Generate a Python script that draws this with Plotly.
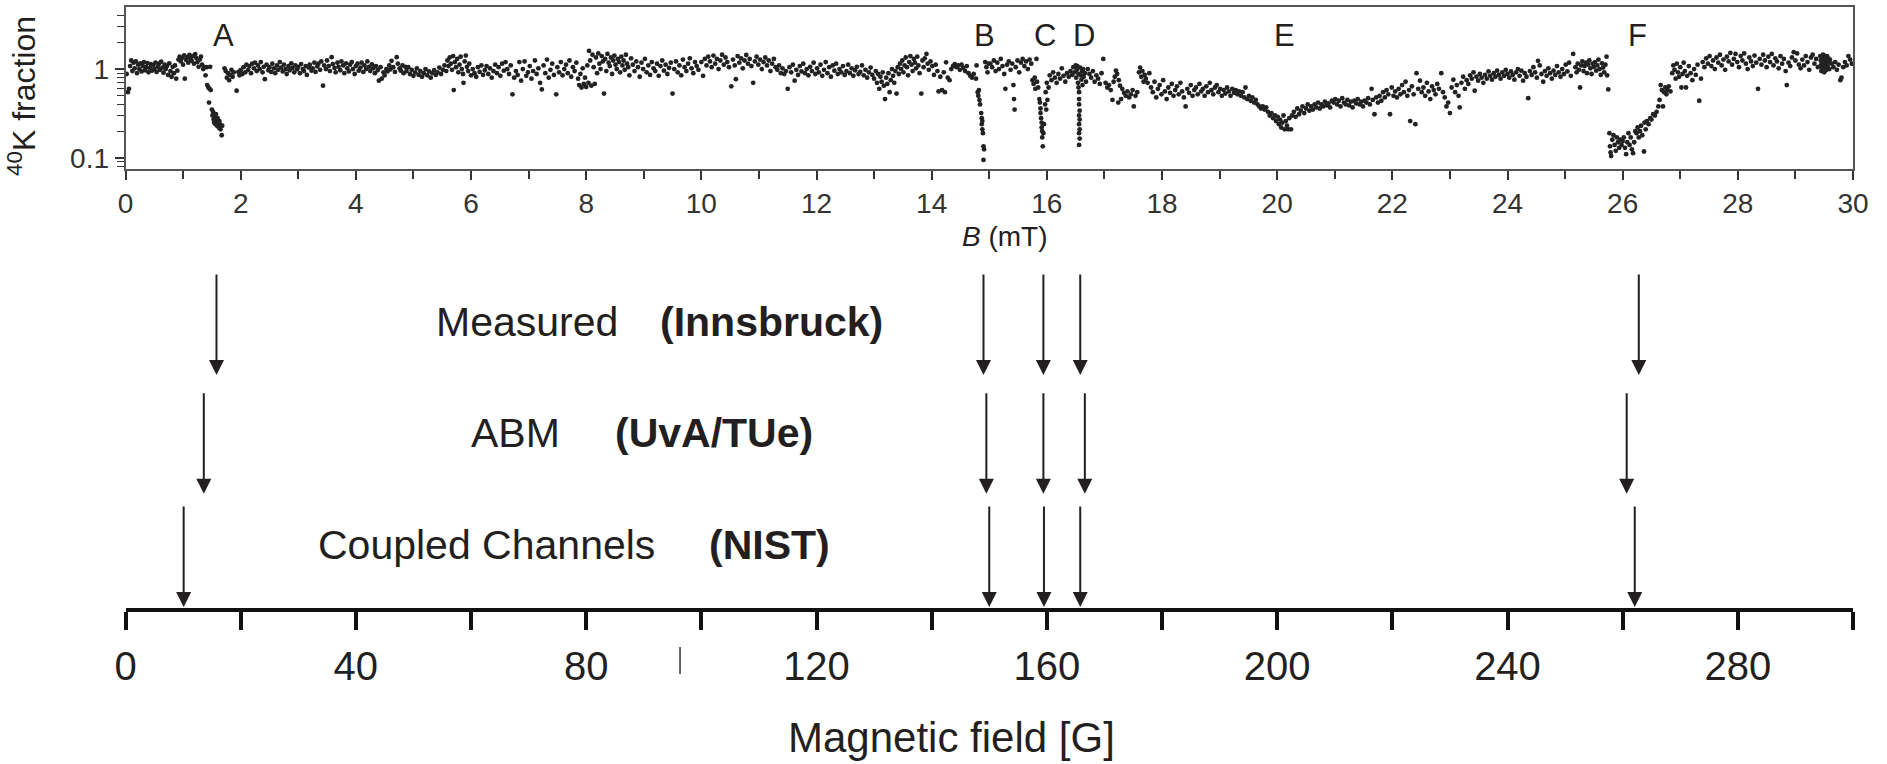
import plotly.graph_objects as go

# ---------------- data: 40K fraction vs B (mT) ----------------
seg_0_2p5 = [(0.02,0.88),(0.04,0.55),(0.06,0.60),(0.08,1.08),(0.10,1.25),(0.12,0.95),(0.14,1.18),(0.16,1.02),(0.18,1.22),(0.20,0.90),(0.22,1.12),(0.24,1.00),(0.26,1.16),(0.28,0.94),(0.30,1.08),(0.32,1.20),(0.34,0.97),(0.36,1.05),(0.38,1.17),(0.40,0.92),(0.42,1.03),(0.44,1.14),(0.46,0.96),(0.48,1.10),(0.50,1.00),(0.52,1.18),(0.54,0.93),(0.56,1.06),(0.58,1.15),(0.60,0.98),(0.62,1.21),(0.64,1.04),(0.66,0.91),(0.68,1.12),(0.70,1.00),(0.72,1.08),(0.74,0.86),(0.76,1.16),(0.78,0.95),(0.80,0.82),(0.82,1.06),(0.84,0.90),(0.86,1.10),(0.88,0.78),(0.90,0.96),(0.92,1.28),(0.94,1.38),(0.96,1.22),(0.98,1.33),(1.00,1.12),(1.02,1.43),(1.03,0.78),(1.05,1.27),(1.07,1.36),(1.09,1.18),(1.11,1.44),(1.13,1.30),(1.15,1.24),(1.17,1.40),(1.19,1.15),(1.21,1.47),(1.23,1.33),(1.25,1.20),(1.27,1.06),(1.29,1.28),(1.31,1.38),(1.33,1.12),(1.35,1.00),(1.37,1.05),
             (1.39,0.85),(1.41,1.05),(1.42,0.66),(1.44,0.62),(1.45,0.42),(1.46,0.60),(1.47,1.06),(1.48,0.58),(1.50,0.35),(1.51,0.30),(1.52,0.33),(1.53,0.27),(1.54,0.25),(1.55,0.29),(1.56,0.24),(1.57,0.31),(1.58,0.26),(1.59,0.23),(1.60,0.28),(1.61,0.25),(1.62,0.22),(1.63,0.26),(1.64,0.24),(1.65,0.21),(1.67,0.18),(1.68,0.23),
             (1.72,1.02),(1.74,0.95),(1.76,0.80),(1.78,0.90),(1.80,0.75),(1.82,0.86),(1.84,0.98),(1.86,0.82),(1.88,0.92),(1.93,0.57),(1.96,0.93),(1.98,0.85),(2.00,0.97),(2.03,0.88),(2.05,1.05),(2.08,0.92),(2.10,1.12),(2.13,0.98),(2.15,1.08),(2.18,0.90),(2.20,1.15),(2.23,1.02),(2.25,1.18),(2.28,0.95),(2.30,1.10),(2.33,1.00),(2.35,1.20),(2.38,0.92),(2.40,1.06),(2.42,0.77),(2.45,1.12),(2.48,0.97)]

seg_2p5_4p9 = [(2.50,1.05),(2.53,0.93),(2.55,1.15),(2.58,1.02),(2.60,0.90),(2.63,1.10),(2.65,0.98),(2.68,1.20),(2.70,1.04),(2.73,0.94),(2.75,1.12),(2.78,1.00),(2.80,0.88),(2.83,1.08),(2.85,0.97),(2.88,1.16),(2.90,1.03),(2.93,0.92),(2.95,1.10),(2.98,0.99),(3.00,1.06),(3.03,0.90),(3.05,1.14),(3.08,1.00),(3.10,0.95),(3.13,1.08),(3.15,0.86),(3.18,1.04),(3.20,1.12),(3.23,0.96),(3.25,1.02),(3.28,1.18),(3.30,0.93),(3.33,1.07),(3.35,1.15),(3.38,0.98),(3.40,1.22),(3.43,0.65),(3.45,1.10),(3.48,1.00),(3.50,1.25),(3.53,1.08),(3.55,0.95),(3.58,1.36),(3.60,1.14),(3.63,1.03),(3.65,0.92),(3.68,1.18),(3.70,1.06),(3.73,0.97),(3.75,1.22),(3.78,1.10),(3.80,0.90),(3.83,1.16),(3.85,1.02),(3.88,0.94),(3.90,1.12),(3.93,1.20),(3.95,1.00),(3.98,0.88),(4.00,1.08),(4.03,1.15),(4.05,0.96),(4.08,1.04),(4.10,1.18),(4.13,0.93),(4.15,1.10),(4.18,1.00),(4.20,1.22),(4.23,1.06),(4.25,0.95),(4.28,1.13),(4.30,1.02),(4.33,0.90),(4.35,1.08),(4.38,0.97),(4.40,0.74),(4.43,1.05),(4.45,0.78),(4.48,0.92),(4.50,0.85),(4.53,1.00),(4.55,0.94),(4.58,1.10),(4.60,0.99),(4.62,1.24),(4.65,1.05),(4.68,0.93),(4.71,1.36),(4.73,1.15),(4.76,1.02),(4.78,0.96),(4.81,1.10),(4.83,0.90),(4.86,1.06)]

seg_4p9_10 = [(4.88,0.95),(4.91,1.05),(4.94,0.88),(4.97,0.98),(5.00,0.84),(5.03,0.92),(5.06,1.02),(5.09,0.86),(5.12,0.95),(5.15,0.82),(5.18,0.90),(5.21,1.00),(5.24,0.85),(5.27,0.94),(5.30,0.80),(5.33,0.90),(5.36,0.97),(5.39,0.86),(5.42,0.92),(5.45,1.04),(5.48,0.88),(5.51,0.98),(5.54,1.10),(5.57,0.95),(5.59,1.25),(5.61,1.08),(5.63,1.35),(5.65,1.15),(5.67,0.98),(5.69,1.40),(5.70,0.58),(5.72,1.20),(5.74,1.05),(5.76,1.30),(5.78,0.92),(5.80,1.12),(5.82,1.38),(5.84,1.00),(5.86,0.88),(5.87,0.70),(5.89,1.22),(5.91,1.42),(5.93,1.06),(5.95,0.95),(5.97,1.15),(6.00,0.85),(6.03,1.00),(6.06,0.90),(6.09,0.82),(6.12,1.05),(6.15,0.93),(6.18,1.10),(6.21,0.86),(6.24,0.97),(6.27,1.08),(6.30,0.88),(6.33,1.02),(6.36,0.80),(6.39,0.95),(6.42,1.12),(6.45,0.90),(6.48,1.05),(6.51,0.84),(6.54,1.15),(6.57,0.96),(6.60,1.20),(6.63,1.00),(6.66,0.88),(6.69,1.10),(6.72,0.52),(6.75,0.80),(6.78,0.95),(6.81,0.86),(6.84,1.20),(6.87,0.74),(6.90,1.00),(6.93,1.22),(6.96,0.84),(6.99,0.92),(7.02,1.08),(7.05,0.78),(7.08,0.95),(7.11,1.25),(7.14,0.88),(7.17,1.02),(7.20,0.70),(7.23,0.59),(7.26,1.10),(7.29,0.90),(7.32,1.28),(7.35,0.80),(7.38,0.98),(7.41,1.15),(7.44,0.86),(7.48,0.52),(7.50,1.05),(7.53,0.92),(7.56,1.20),(7.59,0.85),(7.62,1.00),(7.65,1.12),(7.68,0.90),(7.71,1.25),(7.74,0.82),(7.77,1.05),(7.80,0.95),(7.83,1.18),(7.86,0.78),(7.88,0.66),(7.90,0.88),(7.92,0.62),(7.94,1.02),(7.96,0.68),(7.98,0.80),(8.00,0.63),(8.02,1.10),(8.04,0.70),(8.05,1.60),(8.07,1.25),(8.09,0.65),(8.11,1.45),(8.13,1.05),(8.15,0.68),(8.17,1.35),(8.19,0.90),(8.21,1.50),(8.23,1.15),(8.25,1.00),(8.27,1.40),(8.29,1.22),(8.31,0.53),(8.33,1.30),(8.35,0.95),(8.37,1.48),(8.39,1.18),(8.41,1.08),(8.43,1.35),(8.45,0.88),(8.47,1.25),(8.49,1.42),(8.51,1.12),(8.53,1.00),(8.55,1.30),(8.57,1.20),(8.59,0.92),(8.61,1.38),(8.63,1.10),(8.65,1.25),(8.67,0.98),(8.69,1.45),(8.71,1.15),(8.73,1.05),(8.75,0.85),(8.78,1.32),(8.81,1.12),(8.84,0.95),(8.87,1.22),(8.90,1.05),(8.93,0.82),(8.96,1.18),(8.99,1.00),(9.02,1.30),(9.05,0.92),(9.08,1.10),(9.11,0.86),(9.14,1.20),(9.17,1.02),(9.20,0.95),(9.23,1.15),(9.26,0.84),(9.29,1.08),(9.32,1.25),(9.35,0.96),(9.38,1.12),(9.41,0.88),(9.44,1.03),(9.47,1.18),(9.50,0.53),(9.53,1.00),(9.56,1.22),(9.59,0.92),(9.62,1.10),(9.65,0.85),(9.68,1.28),(9.71,1.05),(9.74,0.95),(9.77,1.15),(9.80,1.32),(9.83,1.02),(9.86,0.90),(9.89,1.20),(9.92,1.08),(9.95,0.98)]

seg_10_15 = [(10.00,1.20),(10.03,0.84),(10.06,1.30),(10.09,1.10),(10.12,1.38),(10.15,1.22),(10.18,1.05),(10.21,1.42),(10.24,1.15),(10.27,1.30),(10.30,1.00),(10.33,1.25),(10.36,1.45),(10.39,1.12),(10.42,1.35),(10.45,1.20),(10.48,1.05),(10.52,0.64),(10.55,1.28),(10.58,1.10),(10.60,0.77),(10.63,1.40),(10.66,1.18),(10.69,1.32),(10.72,1.02),(10.75,1.25),(10.78,1.44),(10.81,1.15),(10.84,1.30),(10.87,1.08),(10.90,0.70),(10.93,1.22),(10.96,1.38),(10.99,1.12),(11.02,1.28),(11.05,1.00),(11.08,1.20),(11.11,1.35),(11.14,1.10),(11.17,1.25),(11.20,0.95),(11.23,1.15),(11.26,1.30),(11.29,1.05),(11.32,0.98),(11.35,1.10),(11.38,0.90),(11.41,1.02),(11.44,0.88),(11.47,0.95),(11.50,0.60),(11.53,1.05),(11.56,0.92),(11.59,1.12),(11.62,0.74),(11.65,0.98),(11.68,0.86),(11.71,1.08),(11.74,0.94),(11.77,1.15),(11.80,0.90),(11.83,1.00),(11.86,0.85),(11.89,1.06),(11.92,0.95),(11.95,1.18),(11.98,0.88),(12.01,1.02),(12.04,0.92),(12.07,1.12),(12.10,0.84),(12.13,0.98),(12.16,1.20),(12.19,0.90),(12.22,1.05),(12.25,0.82),(12.28,1.10),(12.31,0.96),(12.34,1.15),(12.37,0.88),(12.40,1.00),(12.43,0.92),(12.46,1.08),(12.49,0.86),(12.52,0.95),(12.55,1.12),(12.58,0.90),(12.61,1.02),(12.64,0.84),(12.67,0.97),(12.70,1.06),(12.73,0.88),(12.76,0.93),(12.79,1.10),(12.82,0.85),(12.85,0.98),(12.88,0.80),(12.91,0.92),(12.94,1.04),(12.97,0.86),(13.00,0.78),(13.03,0.95),(13.05,0.70),(13.07,0.88),(13.09,0.60),(13.11,0.82),(13.13,0.72),(13.15,0.92),(13.17,0.65),(13.19,0.46),(13.21,0.80),(13.23,0.68),(13.25,0.90),(13.27,0.55),(13.29,0.75),(13.31,1.00),(13.33,0.84),(13.35,0.70),(13.37,0.95),(13.39,0.53),(13.41,1.05),(13.43,0.88),(13.45,1.15),(13.47,1.00),(13.49,1.25),(13.51,0.92),(13.53,1.10),(13.55,1.35),(13.57,1.05),(13.59,0.85),(13.61,1.20),(13.63,1.40),(13.65,1.12),(13.67,0.95),(13.69,1.30),(13.71,1.18),(13.73,1.02),(13.75,1.38),(13.77,1.10),(13.79,0.90),(13.82,0.53),(13.84,1.25),(13.86,1.05),(13.88,1.32),(13.91,1.48),(13.93,1.15),(13.95,0.98),(13.98,1.22),(14.01,1.08),(14.04,0.86),(14.07,1.12),(14.10,0.95),(14.12,0.56),(14.15,0.82),(14.18,0.58),(14.21,0.92),(14.23,0.55),(14.25,1.19),(14.28,0.80),(14.31,0.75),(14.34,1.00),(14.37,1.08),(14.40,1.14),(14.43,1.05),(14.46,1.10),(14.49,0.98),(14.52,1.12),(14.55,1.03),(14.58,0.95),(14.61,1.08),(14.64,0.90),(14.67,0.84),(14.70,0.80),(14.73,0.88),
             (14.77,0.78),(14.78,1.10),(14.80,0.55),(14.81,0.50),(14.82,0.58),(14.83,0.45),(14.84,0.40),(14.86,0.32),(14.87,0.28),(14.87,0.24),(14.88,0.26),(14.88,0.21),(14.89,0.19),(14.90,0.135),(14.91,0.125),(14.90,0.095),(14.93,1.20),(14.95,1.05),(14.97,0.92),(14.99,1.15)]

seg_15_17 = [(15.02,1.15),(15.05,1.05),(15.08,1.25),(15.11,0.95),(15.14,1.18),(15.17,1.00),(15.20,1.30),(15.23,1.08),(15.26,0.88),(15.28,0.60),(15.31,1.12),(15.34,1.22),(15.37,0.98),(15.40,1.15),(15.42,0.66),(15.43,0.46),(15.44,0.35),(15.46,1.05),(15.49,1.25),(15.52,0.92),(15.55,1.18),(15.58,1.30),(15.61,1.08),(15.64,1.22),(15.67,1.00),(15.70,1.28),(15.73,1.15),(15.75,0.75),(15.77,0.68),(15.79,0.80),(15.80,0.60),(15.82,1.30),(15.83,0.72),(15.85,0.62),(15.87,0.46),(15.88,0.42),(15.89,0.36),(15.89,0.32),(15.90,0.28),(15.91,0.25),(15.91,0.22),(15.92,0.20),(15.92,0.17),(15.93,0.135),(15.94,0.19),(15.95,0.24),(15.97,0.40),(15.98,0.55),(15.99,0.35),(16.00,0.70),(16.01,0.45),(16.03,0.62),(16.05,0.85),(16.08,0.75),(16.11,0.92),(16.14,0.80),(16.17,0.70),(16.20,0.88),(16.23,0.78),(16.26,1.02),(16.29,0.84),(16.32,0.72),(16.35,0.90),(16.38,0.82),(16.41,0.95),(16.44,0.86),(16.46,1.05),(16.48,0.92),(16.50,1.10),(16.51,0.80),(16.52,0.98),(16.53,1.08),(16.54,0.70),(16.55,0.88),(16.55,0.62),(16.56,0.55),(16.56,0.46),(16.56,0.40),(16.57,0.34),(16.56,0.30),(16.57,0.27),(16.56,0.24),(16.57,0.21),(16.56,0.19),(16.57,0.165),(16.56,0.14),(16.58,1.04),(16.59,0.85),(16.60,0.76),(16.61,0.95),(16.62,0.66),(16.63,1.00),(16.64,0.82),(16.66,0.90),(16.68,0.72),(16.71,1.00),(16.74,0.88),(16.77,0.80),(16.80,0.95),(16.83,0.72),(16.86,0.85),(16.89,0.78),(16.92,0.68),(16.95,0.90),(16.98,1.30)]

seg_17_20 = [(17.02,0.70),(17.05,0.62),(17.08,0.66),(17.11,0.58),(17.14,0.45),(17.16,0.72),(17.18,0.82),(17.20,0.96),(17.22,0.88),(17.24,0.42),(17.25,0.75),(17.27,0.65),(17.29,0.46),(17.31,0.60),(17.34,0.54),(17.37,0.50),(17.40,0.56),(17.43,0.48),(17.46,0.52),(17.49,0.58),(17.51,0.38),(17.54,0.50),(17.57,0.55),(17.60,0.92),(17.62,1.04),(17.64,0.82),(17.66,0.95),(17.68,0.72),(17.70,0.86),(17.72,0.78),(17.75,0.70),(17.78,0.90),(17.81,0.62),(17.84,0.55),(17.87,0.72),(17.90,0.48),(17.93,0.60),(17.96,0.66),(17.99,0.52),(18.02,0.75),(18.05,0.56),(18.08,0.46),(18.11,0.62),(18.14,0.54),(18.17,0.68),(18.20,0.50),(18.23,0.58),(18.26,0.64),(18.29,0.52),(18.32,0.70),(18.35,0.56),(18.38,0.48),(18.41,0.38),(18.44,0.60),(18.47,0.54),(18.50,0.66),(18.53,0.50),(18.56,0.58),(18.59,0.62),(18.62,0.52),(18.65,0.68),(18.68,0.56),(18.71,0.60),(18.74,0.50),(18.77,0.64),(18.80,0.55),(18.83,0.70),(18.86,0.58),(18.89,0.52),(18.92,0.62),(18.95,0.66),(18.98,0.55),(19.01,0.60),(19.04,0.50),(19.07,0.58),(19.10,0.53),(19.13,0.62),(19.16,0.56),(19.19,0.50),(19.22,0.60),(19.25,0.54),(19.28,0.58),(19.31,0.52),(19.34,0.56),(19.37,0.50),(19.40,0.55),(19.43,0.48),(19.45,0.62),(19.48,0.46),(19.51,0.50),(19.54,0.44),(19.57,0.48),(19.60,0.42),(19.63,0.45),(19.66,0.40),(19.69,0.38),(19.72,0.36),(19.75,0.38),(19.78,0.35),(19.81,0.37),(19.84,0.33),(19.87,0.30),(19.90,0.32),(19.93,0.28),(19.96,0.30),(19.98,0.26),(20.01,0.29),(20.03,0.24),(20.05,0.27),(20.07,0.22),(20.09,0.25)]

seg_20_25 = [(20.11,0.30),(20.13,0.21),(20.15,0.26),(20.17,0.23),(20.19,0.21),(20.21,0.28),(20.24,0.21),(20.26,0.30),(20.29,0.33),(20.32,0.29),(20.35,0.36),(20.38,0.31),(20.41,0.34),(20.44,0.38),(20.47,0.32),(20.50,0.36),(20.53,0.40),(20.56,0.34),(20.59,0.38),(20.62,0.35),(20.65,0.40),(20.68,0.37),(20.71,0.42),(20.74,0.36),(20.77,0.40),(20.80,0.38),(20.83,0.43),(20.86,0.39),(20.89,0.41),(20.92,0.37),(20.95,0.44),
             (20.98,0.42),(21.01,0.46),(21.04,0.40),(21.07,0.44),(21.10,0.38),(21.13,0.47),(21.16,0.42),(21.19,0.40),(21.22,0.45),(21.25,0.39),(21.28,0.43),(21.31,0.37),(21.34,0.44),(21.37,0.41),(21.40,0.46),(21.43,0.40),(21.46,0.43),(21.49,0.38),(21.52,0.44),(21.55,0.42),(21.58,0.47),(21.61,0.40),(21.64,0.60),(21.66,0.45),(21.69,0.31),(21.72,0.48),(21.75,0.42),(21.78,0.50),(21.81,0.44),(21.84,0.55),
             (21.87,0.48),(21.90,0.58),(21.93,0.52),(21.96,0.31),(21.99,0.62),(22.02,0.50),(22.05,0.56),(22.08,0.48),(22.11,0.60),(22.14,0.52),(22.17,0.66),(22.20,0.55),(22.23,0.72),(22.26,0.50),(22.29,0.58),(22.31,0.26),(22.34,0.64),(22.37,0.52),(22.40,0.24),(22.42,0.90),(22.45,0.60),(22.48,0.74),(22.51,0.55),
             (22.54,0.62),(22.57,0.50),(22.60,0.70),(22.63,0.56),(22.66,0.46),(22.69,0.64),(22.72,0.58),(22.75,0.52),(22.78,0.68),(22.81,0.60),(22.85,0.90),(22.88,0.55),(22.91,0.48),(22.94,0.38),(22.97,0.42),(23.00,0.32),(23.03,0.62),(23.06,0.76),(23.09,0.55),(23.12,0.66),(23.15,0.50),(23.17,0.37),(23.20,0.70),(23.23,0.82),(23.26,0.60),(23.29,0.75),(23.32,0.68),
             (23.35,0.85),(23.38,0.78),(23.41,0.92),(23.43,0.57),(23.46,0.82),(23.49,0.74),(23.52,0.88),(23.55,0.80),(23.58,0.70),(23.61,0.86),(23.64,0.78),(23.67,0.94),(23.70,0.84),(23.73,0.76),(23.76,0.90),(23.79,0.82),(23.82,0.96),(23.85,0.86),(23.88,0.78),(23.91,0.92),(23.94,0.84),(23.97,0.98),(24.00,0.88),(24.03,0.80),(24.06,0.94),(24.09,0.86),(24.12,0.76),
             (24.15,0.92),(24.18,1.00),(24.21,0.84),(24.24,0.96),(24.27,0.74),(24.30,0.90),(24.33,0.82),(24.36,0.47),(24.39,0.95),(24.42,0.86),(24.45,1.05),(24.48,0.92),(24.51,0.80),(24.53,1.24),(24.56,1.10),(24.59,0.88),(24.62,0.72),(24.65,0.95),(24.68,0.84),(24.71,1.02),(24.74,0.90),(24.77,0.78),(24.80,0.96),(24.83,0.86),(24.86,1.08),(24.89,0.92),(24.92,0.82),(24.95,1.00),(24.98,0.88),(25.01,1.12),(25.04,0.94),(25.07,1.18),(25.10,0.84),(25.14,1.48)]

seg_25_30 = [(25.18,1.05),(25.20,0.92),(25.22,1.15),(25.24,0.98),(25.26,0.62),(25.28,1.10),(25.30,1.22),(25.32,0.95),(25.34,1.08),(25.36,1.18),(25.38,0.90),(25.40,1.12),(25.42,1.25),(25.44,1.02),(25.46,0.88),(25.48,1.15),(25.50,1.06),(25.52,1.20),(25.54,0.96),(25.56,1.10),(25.58,1.28),(25.60,1.00),(25.62,0.86),(25.64,1.16),(25.66,1.04),(25.68,0.92),(25.70,1.12),(25.72,1.38),(25.73,0.85),(25.75,0.59),
             (25.77,0.19),(25.78,0.135),(25.79,0.115),(25.80,0.105),(25.82,0.16),(25.84,0.18),(25.86,0.14),(25.88,0.12),(25.90,0.17),(25.92,0.15),(25.94,0.13),(25.96,0.16),(25.98,0.14),(26.00,0.155),(26.02,0.17),(26.04,0.13),(26.06,0.11),(26.08,0.15),(26.10,0.19),(26.12,0.14),(26.14,0.17),(26.16,0.125),(26.18,0.113),(26.20,0.15),(26.22,0.20),(26.24,0.19),(26.26,0.22),(26.28,0.17),(26.30,0.20),(26.32,0.23),(26.34,0.18),(26.37,0.118),(26.38,0.25),(26.40,0.21),(26.42,0.26),(26.45,0.24),(26.48,0.28),(26.50,0.27),(26.53,0.31),(26.56,0.30),
             (26.59,0.33),(26.62,0.38),(26.64,0.45),(26.66,0.66),(26.68,0.58),(26.70,0.38),(26.72,0.55),(26.74,0.62),(26.76,0.52),(26.78,0.58),(26.80,0.64),(26.83,0.56),
             (26.86,0.90),(26.88,1.10),(26.90,0.98),(26.92,0.78),(26.94,1.15),(26.96,0.92),(26.98,0.82),(27.00,1.05),(27.02,0.62),(27.04,0.88),(27.06,1.18),(27.08,0.95),(27.10,0.62),(27.12,0.84),(27.15,1.08),(27.18,0.90),(27.21,0.75),(27.24,1.00),(27.27,0.86),(27.30,1.12),(27.33,0.44),(27.36,0.78),
             (27.39,1.20),(27.42,1.05),(27.45,1.32),(27.48,1.15),(27.51,1.40),(27.54,1.08),(27.57,1.25),(27.60,1.00),(27.63,1.35),(27.66,1.18),(27.69,1.45),(27.72,1.10),(27.75,1.28),(27.78,0.98),(27.81,1.38),(27.84,1.22),(27.87,1.52),(27.90,1.12),(27.93,1.30),(27.96,1.48),(27.99,1.20),(28.02,1.05),(28.05,1.40),(28.08,1.25),(28.11,1.50),(28.14,1.15),(28.17,1.00),(28.20,1.35),(28.23,1.22),(28.26,1.08),(28.29,1.42),(28.32,1.18),(28.35,0.60),(28.38,1.30),(28.41,1.12),(28.44,1.45),(28.47,1.25),(28.50,1.05),(28.53,1.38),(28.56,1.20),(28.59,1.48),(28.62,1.10),(28.65,1.32),(28.68,1.22),(28.71,1.02),(28.74,1.40),(28.77,1.15),(28.80,1.30),(28.83,0.95),(28.85,0.66),(28.88,1.18),(28.91,1.08),(28.94,1.35),(28.97,1.55),(29.00,1.25),(29.03,1.50),(29.06,1.12),(29.09,1.02),(29.12,1.28),(29.15,1.10),(29.18,1.40),(29.21,1.20),(29.24,0.98),(29.27,1.35),(29.30,1.45),(29.33,1.15),(29.36,1.30),(29.39,1.05),
             (29.43,1.40),(29.44,1.25),(29.44,1.10),(29.45,0.95),(29.46,1.35),(29.46,1.18),(29.47,1.02),(29.48,1.45),(29.48,1.30),(29.49,1.12),(29.50,0.92),(29.50,1.42),(29.51,1.22),(29.52,1.05),(29.52,1.35),(29.53,1.15),(29.54,0.98),(29.55,1.40),(29.55,1.25),(29.56,1.08),(29.57,1.32),(29.58,1.18),(29.59,1.00),(29.60,1.28),
             (29.63,1.15),(29.66,1.05),(29.69,1.20),(29.72,0.98),(29.75,1.12),(29.78,0.75),(29.80,0.80),(29.83,1.05),(29.86,1.20),(29.89,1.10),(29.92,1.40),(29.95,1.28),(29.98,1.15)]

# Feshbach resonance labels in the scan (mT)
resonance_labels = ["A", "B", "C", "D", "E", "F"]
resonance_mT = [1.70, 14.92, 15.97, 16.64, 20.13, 26.26]

# Resonance positions (G) from the three determinations
measured_G = [15.8, 149.0, 159.4, 165.8, 262.8]
abm_G = [13.6, 149.5, 159.4, 166.6, 260.7]
nist_G = [10.1, 150.0, 159.5, 165.8, 262.1]

top_xticks = [0, 2, 4, 6, 8, 10, 12, 14, 16, 18, 20, 22, 24, 26, 28, 30]
bottom_xticks = [0, 40, 80, 120, 160, 200, 240, 280]

# ---------------- assemble ----------------
all_pts = seg_0_2p5 + seg_2p5_4p9 + seg_4p9_10 + seg_10_15 + seg_15_17 + seg_17_20 + seg_20_25 + seg_25_30
b_mT = [p[0] for p in all_pts]
k40_frac = [p[1] for p in all_pts]

W, H = 1887, 764
FONT = "Liberation Sans, Arial, sans-serif"
INK = "#231f20"

def px_x(px):
    return px / W

def px_y(py):
    return 1 - py / H

x_dom = [px_x(125.5), px_x(1853)]

fig = go.Figure()
fig.add_trace(go.Scatter(
    x=b_mT, y=k40_frac, mode="markers", xaxis="x", yaxis="y",
    marker=dict(size=4.8, color="#222222", line=dict(width=0)),
    showlegend=False, hoverinfo="skip"))

# invisible carrier trace for the lower (Gauss) axis
fig.add_trace(go.Scatter(
    x=measured_G, y=[0] * len(measured_G), mode="markers", xaxis="x2", yaxis="y2",
    marker=dict(size=1, opacity=0), showlegend=False, hoverinfo="skip"))

annotations = []

# resonance letters
for lab, xm in zip(resonance_labels, resonance_mT):
    annotations.append(dict(x=xm, y=px_y(36), xref="x", yref="paper", text=lab,
                            showarrow=False, font=dict(family=FONT, size=31, color=INK),
                            xanchor="center", yanchor="middle"))

# arrows for each determination: (positions, tip level, tail level)
rows = [(measured_G, 2.08, 2.99), (abm_G, 1.02, 1.93), (nist_G, 0.01, 0.92)]
for xs, tip, tail in rows:
    for xv in xs:
        annotations.append(dict(x=xv, y=tip, xref="x2", yref="y2", ax=xv, ay=tail,
                                axref="x2", ayref="y2", text="", showarrow=True,
                                arrowhead=2, arrowsize=1.5, arrowwidth=2,
                                arrowcolor=INK, standoff=0, startstandoff=0))

# row labels
row_texts = [("Measured", 53.6, 2.55, False), ("(Innsbruck)", 92.5, 2.55, True),
             ("ABM", 59.7, 1.56, False), ("(UvA/TUe)", 84.6, 1.56, True),
             ("Coupled Channels", 33.1, 0.56, False), ("(NIST)", 100.9, 0.56, True)]
for txt, xv, yv, bold in row_texts:
    annotations.append(dict(x=xv, y=yv, xref="x2", yref="y2",
                            text=f"<b>{txt}</b>" if bold else txt, showarrow=False,
                            xanchor="left", yanchor="middle",
                            font=dict(family=FONT, size=41, color=INK)))

# axis titles
annotations.append(dict(x=px_x(22), y=px_y(96), xref="paper", yref="paper",
                        text="<sup>40</sup>K fraction", textangle=-90, showarrow=False,
                        font=dict(family=FONT, size=32, color=INK),
                        xanchor="center", yanchor="middle"))
annotations.append(dict(x=px_x(1005), y=px_y(237), xref="paper", yref="paper",
                        text="<i>B</i> (mT)", showarrow=False,
                        font=dict(family=FONT, size=28, color=INK),
                        xanchor="center", yanchor="middle"))
annotations.append(dict(x=px_x(952), y=px_y(763), xref="paper", yref="paper",
                        text="Magnetic field [G]", showarrow=False,
                        font=dict(family=FONT, size=42, color=INK),
                        xanchor="center", yanchor="bottom"))

fig.update_layout(
    width=W, height=H,
    margin=dict(l=0, r=0, t=0, b=0, pad=0),
    paper_bgcolor="white", plot_bgcolor="white",
    showlegend=False,
    font=dict(family=FONT, color=INK),
    annotations=annotations,
    shapes=[dict(type="line", xref="x2", yref="paper", x0=96.3, x1=96.3,
                 y0=px_y(674), y1=px_y(647), line=dict(color="#333", width=1.5))],
    xaxis=dict(
        domain=x_dom, range=[0, 30], anchor="y", automargin=False,
        tickvals=top_xticks, ticks="outside", ticklen=9, tickwidth=1.5, tickcolor="#333",
        minor=dict(dtick=1, ticks="outside", ticklen=8, tickwidth=1.5, tickcolor="#333"),
        showline=True, linecolor="#555", linewidth=1.5, mirror=True,
        showgrid=False, zeroline=False,
        tickfont=dict(family=FONT, size=28, color="#333"),
    ),
    yaxis=dict(
        domain=[px_y(169), px_y(7)], type="log", automargin=False,
        range=[-1.125, 0.699], anchor="x",
        tickvals=[0.1, 1], ticktext=["0.1", "1"],
        ticks="outside", ticklen=9, tickwidth=1.5, tickcolor="#333",
        minor=dict(tickvals=[0.08, 0.09, 0.2, 0.3, 0.4, 0.5, 0.6, 0.7, 0.8, 0.9, 2, 3, 4],
                   ticks="outside", ticklen=7, tickwidth=1.2, tickcolor="#333"),
        showline=True, linecolor="#555", linewidth=1.8, mirror=True,
        showgrid=False, zeroline=False,
        tickfont=dict(family=FONT, size=28, color="#333"),
    ),
    xaxis2=dict(
        domain=x_dom, range=[0, 300], anchor="y2", automargin=False,
        tickvals=bottom_xticks, ticks="outside", ticklen=18, tickwidth=3.5, tickcolor="#111",
        minor=dict(dtick=20, ticks="outside", ticklen=18, tickwidth=3.5, tickcolor="#111"),
        showline=True, linecolor="#111", linewidth=4,
        showgrid=False, zeroline=False,
        tickfont=dict(family=FONT, size=40, color=INK),
        ticklabelstandoff=2,
    ),
    yaxis2=dict(
        domain=[px_y(608), px_y(272)], range=[0, 3], anchor="x2", automargin=False,
        visible=False, showgrid=False, zeroline=False,
    ),
)

fig.write_html("out.html")
